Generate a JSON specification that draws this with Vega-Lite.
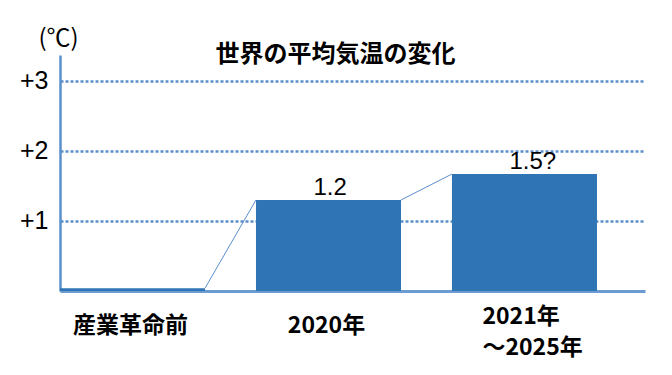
{
  "$schema": "https://vega.github.io/schema/vega-lite/v6.json",
  "width": 585,
  "height": 236,
  "autosize": {"type": "none"},
  "padding": {"left": 60, "top": 55, "right": 27, "bottom": 84},
  "background": "white",
  "title": {
    "text": "世界の平均気温の変化",
    "font": "Noto Sans CJK JP",
    "fontWeight": "bold",
    "fontSize": 24,
    "color": "black",
    "anchor": "middle",
    "frame": "group",
    "dx": -17,
    "dy": 41,
    "offset": 0
  },
  "config": {"view": {"stroke": null}},
  "datasets": {
    "bars": [
      {"period": "産業革命前", "anomaly": 0.04, "value": "", "axisLabel": "産業革命前"},
      {"period": "2020年", "anomaly": 1.3, "value": "1.2", "axisLabel": "2020年"},
      {"period": "2021年～2025年", "anomaly": 1.67, "value": "1.5?", "axisLabel": "2021年\n～2025年"}
    ],
    "links": [
      {"from": "産業革命前", "to": "2020年", "start": 0.04, "end": 1.3},
      {"from": "2020年", "to": "2021年～2025年", "start": 1.3, "end": 1.67}
    ]
  },
  "layer": [
    {
      "data": {"name": "bars"},
      "mark": {"type": "bar", "color": "#2f75b5"},
      "encoding": {
        "x": {
          "field": "period",
          "type": "nominal",
          "sort": null,
          "scale": {"type": "band", "domain": ["産業革命前", "2020年", "2021年～2025年"], "paddingInner": 0.26, "paddingOuter": 0.1225, "align": 0},
          "axis": {"labels": false, "ticks": false, "title": null, "domainColor": "#6b9bd1", "domainWidth": 3}
        },
        "y": {
          "field": "anomaly",
          "type": "quantitative",
          "scale": {"domain": [0, 3.37], "nice": false},
          "axis": {
            "values": [1, 2, 3],
            "grid": true,
            "gridColor": "#5b8fcb",
            "gridDash": [3, 2],
            "gridWidth": 2.5,
            "domainColor": "#5b8fcb",
            "domainWidth": 2.5,
            "ticks": false,
            "labelExpr": "'+' + datum.value",
            "labelFont": "Liberation Sans",
            "labelFontSize": 25,
            "labelColor": "black",
            "labelPadding": 12,
            "title": "(℃)",
            "titleAngle": 0,
            "titleFont": "Noto Sans CJK JP",
            "titleFontSize": 24,
            "titleFontWeight": "normal",
            "titleColor": "black",
            "titleX": -2,
            "titleY": -10,
            "titleAlign": "center",
            "titleBaseline": "alphabetic"
          }
        }
      }
    },
    {
      "data": {"name": "links"},
      "mark": {"type": "rule", "color": "#5b8fcb", "strokeWidth": 1},
      "encoding": {
        "x": {"field": "from", "type": "nominal", "bandPosition": 1},
        "x2": {"field": "to", "bandPosition": 0},
        "y": {"field": "start", "type": "quantitative"},
        "y2": {"field": "end"}
      }
    },
    {
      "data": {"name": "bars"},
      "mark": {"type": "text", "font": "Liberation Sans", "fontSize": 24, "color": "black", "align": "left", "baseline": "alphabetic", "dx": -15, "dy": -5},
      "encoding": {
        "x": {"field": "period", "type": "nominal"},
        "y": {"field": "anomaly", "type": "quantitative"},
        "text": {"field": "value"}
      }
    },
    {
      "data": {"name": "bars"},
      "transform": [{"filter": "datum.period != '2021年～2025年'"}],
      "mark": {"type": "text", "font": "Noto Sans CJK JP", "fontWeight": "bold", "fontSize": 23, "color": "black", "align": "center", "baseline": "middle", "dx": -2, "dy": 35},
      "encoding": {
        "x": {"field": "period", "type": "nominal"},
        "y": {"datum": 0, "type": "quantitative"},
        "text": {"field": "axisLabel"}
      }
    },
    {
      "data": {"name": "bars"},
      "transform": [{"filter": "datum.period == '2021年～2025年'"}],
      "mark": {"type": "text", "font": "Noto Sans CJK JP", "fontWeight": "bold", "fontSize": 23, "color": "black", "align": "left", "baseline": "top", "lineBreak": "\n", "lineHeight": 31, "dx": -42, "dy": 15},
      "encoding": {
        "x": {"field": "period", "type": "nominal"},
        "y": {"datum": 0, "type": "quantitative"},
        "text": {"field": "axisLabel"}
      }
    }
  ]
}
